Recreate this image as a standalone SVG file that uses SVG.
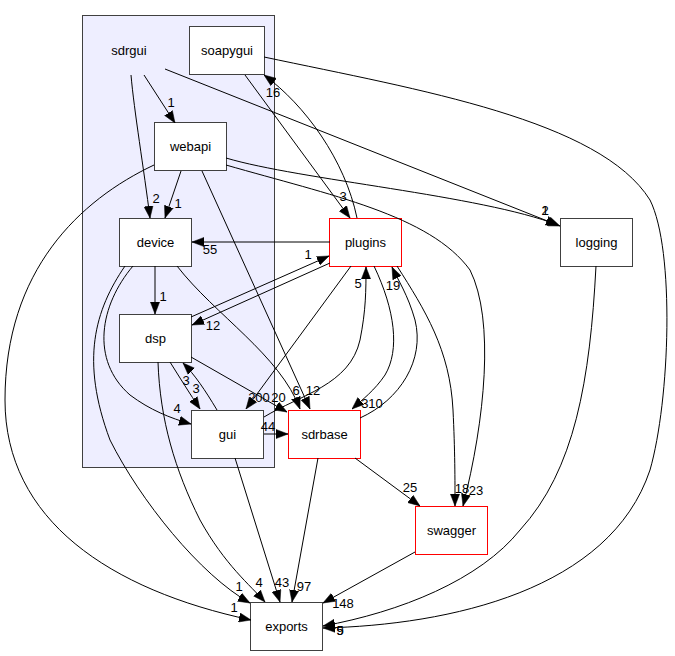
<svg xmlns="http://www.w3.org/2000/svg" width="675" height="656" viewBox="0 0 675 656">
<style>
text{font-family:"Liberation Sans",Arial,Helvetica,sans-serif;font-size:13px;fill:#000}
.n{text-anchor:middle}
.l{text-anchor:middle}
.box{fill:#fff;stroke:#404040;stroke-width:1}
.red{fill:#fff;stroke:#ff0000;stroke-width:1}
.e{fill:none;stroke:#000;stroke-width:1;marker-end:url(#ah)}
</style>
<defs>
<marker id="ah" markerUnits="userSpaceOnUse" viewBox="0 0 12 10" refX="12" refY="5" markerWidth="12" markerHeight="10" orient="auto">
<path d="M0,0.4 L12,5 L0,9.6 z" fill="#000" stroke="#000" stroke-width="0.5"/>
</marker>
</defs>
<rect width="675" height="656" fill="#fff"/>
<g id="cluster_sdrgui">
<rect x="82.5" y="15.5" width="192" height="452" fill="#eeeeff" stroke="#404040"/>
<text class="n" x="129" y="54.5">sdrgui</text>
</g>
<g id="soapygui"><rect class="box" x="189.5" y="26.5" width="75" height="48"/><text class="n" x="227" y="55">soapygui</text></g>
<g id="webapi"><rect class="box" x="154.5" y="122.5" width="72" height="48"/><text class="n" x="190.5" y="151">webapi</text></g>
<g id="device"><rect class="box" x="119.5" y="218.5" width="72" height="48"/><text class="n" x="155.5" y="247">device</text></g>
<g id="dsp"><rect class="box" x="119.5" y="314.5" width="72" height="48"/><text class="n" x="155.5" y="343">dsp</text></g>
<g id="gui"><rect class="box" x="191.5" y="410.5" width="72" height="48"/><text class="n" x="227.5" y="439">gui</text></g>
<g id="plugins"><rect class="red" x="329.5" y="218.5" width="72" height="48"/><text class="n" x="365.5" y="247">plugins</text></g>
<g id="logging"><rect class="box" x="560.5" y="218.5" width="72" height="48"/><text class="n" x="596.5" y="247">logging</text></g>
<g id="sdrbase"><rect class="red" x="288.5" y="410.5" width="72" height="48"/><text class="n" x="324.5" y="439">sdrbase</text></g>
<g id="swagger"><rect class="red" x="415.5" y="506.5" width="72" height="48"/><text class="n" x="451.5" y="535">swagger</text></g>
<g id="exports"><rect class="box" x="250.5" y="602.5" width="72" height="48"/><text class="n" x="286.5" y="631">exports</text></g>
<g id="connectors">
<path class="e" d="M131,75 C134,110 144,170 150,218"/>
<text class="l" x="156" y="202.5">2</text>
<path class="e" d="M144,75 L175,123"/>
<text class="l" x="171" y="106.5">1</text>
<path class="e" d="M165,69 L560,226"/>
<path class="e" d="M226,158 C300,180 480,195 558,225"/>
<text class="l" x="545" y="214.5">1</text>
<text class="l" x="545" y="214.5">2</text>
<path class="e" d="M226,165 C330,195 430,215 470,270 C495,320 485,420 463,506"/>
<text class="l" x="476" y="494.5">23</text>
<path class="e" d="M245,75 L350,218"/>
<text class="l" x="343" y="200.5">3</text>
<path class="e" d="M357,218 C345,160 305,105 264,75"/>
<text class="l" x="273" y="96.5">16</text>
<path class="e" d="M264,57 C420,90 600,120 650,200 C675,250 670,400 650,470 C610,590 450,625 323,628"/>
<path class="e" d="M181,171 L165,218"/>
<text class="l" x="178" y="207.5">1</text>
<path class="e" d="M202,171 L310,409"/>
<text class="l" x="313" y="394.5">12</text>
<path class="e" d="M177,266 C215,315 280,355 300,409"/>
<text class="l" x="296" y="394.5">6</text>
<path class="e" d="M191,357 L287,412"/>
<text class="l" x="278.5" y="401.5">20</text>
<path class="e" d="M351,266 L246,409"/>
<text class="l" x="259" y="401.5">200</text>
<path class="e" d="M264,417 C300,395 350,385 360,340 C366,310 366,290 366,267"/>
<text class="l" x="358" y="287.5">5</text>
<path class="e" d="M330,242 L192,242"/>
<text class="l" x="210" y="253.5">55</text>
<path class="e" d="M191,317 L329,256"/>
<text class="l" x="308" y="258.5">1</text>
<path class="e" d="M330,263 L192,325"/>
<text class="l" x="213" y="329.5">12</text>
<path class="e" d="M155,266 L155,314"/>
<text class="l" x="163" y="300.5">1</text>
<path class="e" d="M133,266 C100,305 90,360 130,395 C150,410 170,418 191,424"/>
<text class="l" x="177" y="412.5">4</text>
<path class="e" d="M125,266 C95,310 80,360 110,440 C140,500 200,575 250,603"/>
<text class="l" x="239" y="590.5">1</text>
<path class="e" d="M154,165 C80,200 5,270 5,400 C5,520 110,590 251,620"/>
<text class="l" x="234" y="611.5">1</text>
<path class="e" d="M170,362 C180,378 190,394 200,409"/>
<text class="l" x="186" y="384.5">3</text>
<path class="e" d="M217,410 C205,390 195,375 183,363"/>
<text class="l" x="196" y="392.5">3</text>
<path class="e" d="M158,362 C160,420 175,470 200,520 C225,565 250,585 265,602"/>
<text class="l" x="259" y="586.5">4</text>
<path class="e" d="M235,458 L280,602"/>
<text class="l" x="282" y="586.5">43</text>
<path class="e" d="M264,434 L288,434"/>
<text class="l" x="268" y="430.5">44</text>
<path class="e" d="M318,458 L292,602"/>
<text class="l" x="304" y="590.5">97</text>
<path class="e" d="M355,458 L420,506"/>
<text class="l" x="410" y="491.5">25</text>
<path class="e" d="M415,552 L323,603"/>
<text class="l" x="343" y="607.5">148</text>
<path class="e" d="M374,266 C395,310 400,350 385,375 C375,390 362,400 352,409"/>
<text class="l" x="372" y="407.5">310</text>
<path class="e" d="M360,418 C400,400 425,360 415,320 C408,295 398,280 392,267"/>
<text class="l" x="393" y="289.5">19</text>
<path class="e" d="M397,266 C425,310 450,350 453,410 C455,450 455,480 455,506"/>
<text class="l" x="462" y="492.5">18</text>
<path class="e" d="M596,266 C590,380 575,470 520,530 C480,580 400,612 323,626"/>
<text class="l" x="340" y="634.5">5</text>
<text class="l" x="340" y="634.5">9</text>
</g>
</svg>
